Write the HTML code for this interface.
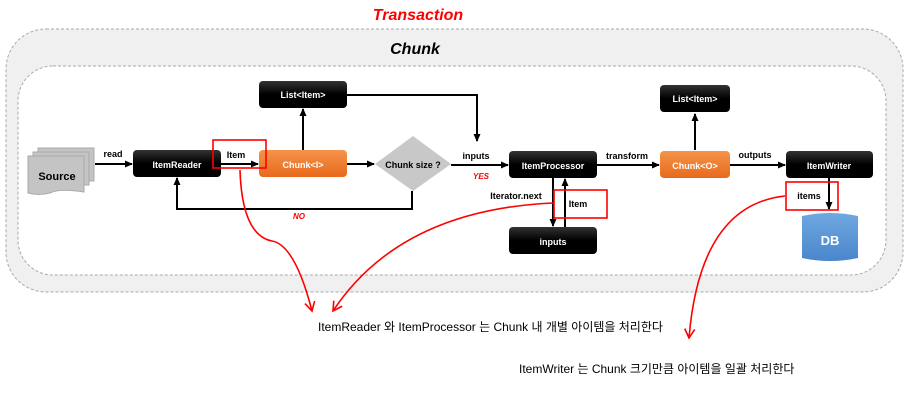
<!DOCTYPE html>
<html><head><meta charset="utf-8"><style>
html,body{margin:0;padding:0;background:#fff;width:912px;height:404px;overflow:hidden}
text{font-family:"Liberation Sans",sans-serif}
.k{font-family:"Liberation Sans","Noto Sans CJK KR",sans-serif}
</style></head><body>
<svg width="912" height="404" viewBox="0 0 912 404" xmlns="http://www.w3.org/2000/svg">
<defs>
<marker id="a" markerWidth="8" markerHeight="8" refX="7" refY="4" orient="auto" markerUnits="userSpaceOnUse"><path d="M0,0.5 L8,4 L0,7.5z" fill="#000"/></marker>
<marker id="r" markerWidth="12" markerHeight="12" refX="10" refY="6" orient="auto" markerUnits="userSpaceOnUse"><path d="M1,1 L10,6 L1,11" fill="none" stroke="#f00" stroke-width="1.6"/></marker>
<linearGradient id="bk" x1="0" y1="0" x2="0" y2="1"><stop offset="0" stop-color="#333"/><stop offset="0.5" stop-color="#000"/></linearGradient>
<linearGradient id="or" x1="0" y1="0" x2="0" y2="1"><stop offset="0" stop-color="#f4944a"/><stop offset="1" stop-color="#e86a1c"/></linearGradient>
<linearGradient id="db" x1="0" y1="0" x2="0" y2="1"><stop offset="0" stop-color="#6fa8e0"/><stop offset="1" stop-color="#4a86cc"/></linearGradient>
</defs>
<text x="418" y="20" text-anchor="middle" font-size="16" font-weight="bold" font-style="italic" fill="#f00">Transaction</text>
<rect x="6" y="29" width="897" height="263" rx="40" fill="#f0f0f0" stroke="#aaa" stroke-dasharray="3,2"/>
<text x="415" y="54" text-anchor="middle" font-size="16" font-weight="bold" font-style="italic" fill="#000">Chunk</text>
<rect x="18" y="66" width="868" height="209" rx="35" fill="#fff" stroke="#aaa" stroke-dasharray="3,2"/>
<rect x="38" y="148" width="56" height="33" fill="#c4c4c4" stroke="#aaa"/>
<rect x="33" y="152" width="56" height="33" fill="#c4c4c4" stroke="#aaa"/>
<path d="M28,156 H84 V192 Q60,188 50,193 Q38,196 28,193Z" fill="#c4c4c4" stroke="#aaa"/>
<text x="57" y="180" text-anchor="middle" font-size="11" font-weight="bold">Source</text>
<g stroke="#000" stroke-width="2" fill="none">
<line x1="95" y1="164" x2="132" y2="164" marker-end="url(#a)"/>
<line x1="221" y1="164" x2="258" y2="164" marker-end="url(#a)"/>
<line x1="303" y1="150" x2="303" y2="109" marker-end="url(#a)"/>
<line x1="347" y1="164" x2="374" y2="164" marker-end="url(#a)"/>
<polyline points="412,191 412,209 177,209 177,178" marker-end="url(#a)"/>
<polyline points="347,95 477,95 477,141" marker-end="url(#a)"/>
<line x1="451" y1="165" x2="508" y2="165" marker-end="url(#a)"/>
<line x1="597" y1="165" x2="659" y2="165" marker-end="url(#a)"/>
<line x1="695" y1="150" x2="695" y2="114" marker-end="url(#a)"/>
<line x1="730" y1="165" x2="785" y2="165" marker-end="url(#a)"/>
<line x1="553" y1="178" x2="553" y2="226" marker-end="url(#a)"/>
<line x1="565" y1="227" x2="565" y2="179" marker-end="url(#a)"/>
<line x1="829" y1="178" x2="829" y2="209" marker-end="url(#a)"/>
</g>
<text x="113" y="157" text-anchor="middle" font-size="9" font-weight="bold">read</text>
<text x="236" y="158" text-anchor="middle" font-size="9" font-weight="bold">Item</text>
<text x="476" y="159" text-anchor="middle" font-size="9" font-weight="bold">inputs</text>
<text x="481" y="179" text-anchor="middle" font-size="8" font-weight="bold" font-style="italic" fill="#f00">YES</text>
<text x="299" y="219" text-anchor="middle" font-size="8" font-weight="bold" font-style="italic" fill="#f00">NO</text>
<text x="627" y="159" text-anchor="middle" font-size="9" font-weight="bold">transform</text>
<text x="755" y="158" text-anchor="middle" font-size="9" font-weight="bold">outputs</text>
<text x="516" y="199" text-anchor="middle" font-size="9" font-weight="bold">Iterator.next</text>
<text x="578" y="207" text-anchor="middle" font-size="9" font-weight="bold">Item</text>
<text x="809" y="199" text-anchor="middle" font-size="9" font-weight="bold">items</text>
<g font-size="9" font-weight="bold" fill="#fff" text-anchor="middle">
<rect x="133" y="150" width="88" height="27" rx="4" fill="url(#bk)"/><text x="177" y="168">ItemReader</text>
<rect x="259" y="150" width="88" height="27" rx="4" fill="url(#or)"/><text x="303" y="168">Chunk&lt;I&gt;</text>
<rect x="259" y="81" width="88" height="27" rx="4" fill="url(#bk)"/><text x="303" y="98">List&lt;Item&gt;</text>
<rect x="509" y="151" width="88" height="27" rx="4" fill="url(#bk)"/><text x="553" y="169">ItemProcessor</text>
<rect x="509" y="227" width="88" height="27" rx="4" fill="url(#bk)"/><text x="553" y="245">inputs</text>
<rect x="660" y="151" width="70" height="27" rx="4" fill="url(#or)"/><text x="695" y="169">Chunk&lt;O&gt;</text>
<rect x="660" y="85" width="70" height="27" rx="4" fill="url(#bk)"/><text x="695" y="102">List&lt;Item&gt;</text>
<rect x="786" y="151" width="87" height="27" rx="4" fill="url(#bk)"/><text x="829" y="169">ItemWriter</text>
</g>
<polygon points="413,136 451,164 413,191 375,164" fill="#c8c8c8"/>
<text x="413" y="168" text-anchor="middle" font-size="9" font-weight="bold">Chunk size ?</text>
<path d="M802,216 Q830,210 858,216 V258 Q830,264 802,258Z" fill="url(#db)"/>
<text x="830" y="245" text-anchor="middle" font-size="13" font-weight="bold" fill="#fff">DB</text>
<g fill="none" stroke="#f00" stroke-width="1.6">
<rect x="213" y="140" width="53" height="28"/>
<rect x="554" y="190" width="53" height="28"/>
<rect x="786" y="182" width="52" height="28"/>
<path d="M240,170 Q242,235 272,241 Q295,245 312,311" marker-end="url(#r)"/>
<path d="M553,203 Q400,210 333,311" marker-end="url(#r)"/>
<path d="M785,196 Q700,205 689,338" marker-end="url(#r)"/>
</g>
<text class="k" x="318" y="331" font-size="12">ItemReader 와 ItemProcessor 는 Chunk 내 개별 아이템을 처리한다</text>
<text class="k" x="519" y="373" font-size="12">ItemWriter 는 Chunk 크기만큼 아이템을 일괄 처리한다</text>
</svg>
</body></html>
